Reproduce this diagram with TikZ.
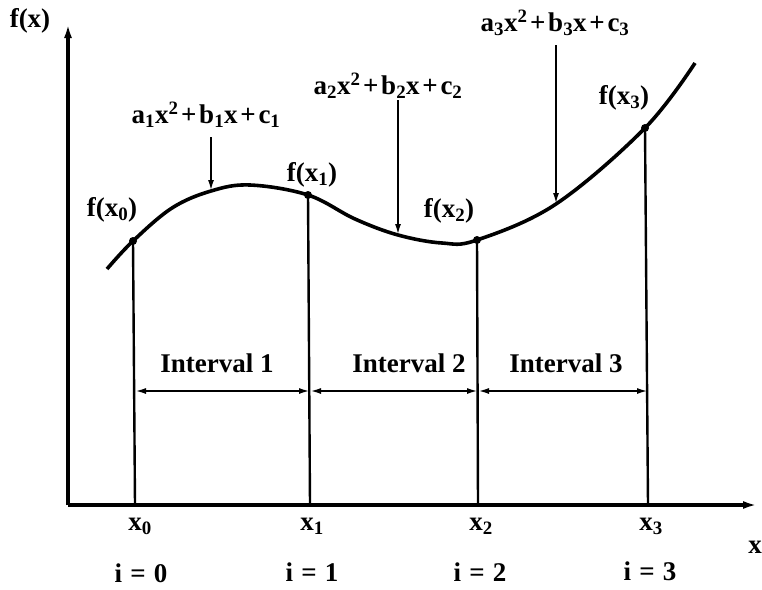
\documentclass[tikz,border=0pt]{standalone}
\usepackage{fontspec}
\setmainfont{Liberation Serif}
\usetikzlibrary{arrows.meta}
\newcommand{\pls}{\hspace{0.1em}+\hspace{0.1em}}
\newcommand{\eqs}{\hspace{0.3em}=\hspace{0.3em}}
\begin{document}
\begin{tikzpicture}[x=1pt,y=-1pt,
  lbl/.style={font=\fontsize{27}{30}\selectfont\bfseries, inner sep=1pt},
  axis/.style={line width=3.6pt, -{Latex[length=14pt,width=8pt]}},
  vline/.style={line width=2.4pt},
  curvestyle/.style={line width=3.6pt},
  pointer/.style={line width=2pt, -{Latex[length=11pt,width=6pt]}},
  dim/.style={line width=2pt, {Latex[length=11pt,width=6pt]}-{Latex[length=11pt,width=6pt]}},
  dot/.style={circle, fill=black, inner sep=0pt, minimum size=8pt}]
\useasboundingbox (0,0) rectangle (762,589);
% axes
\coordinate (O) at (68,505);
\coordinate (ytop) at (68,24);
\coordinate (xend) at (757,505);
\draw[axis] (O) -- (ytop);
\draw[axis] (O) -- (xend);
\node[lbl] (fx) at (30,21) {f(x)};
\node[lbl] (xl) at (755,547) {x};
% points on curve
\coordinate (p0) at (133,241);
\coordinate (p1) at (308,195);
\coordinate (p2) at (477,240);
\coordinate (p3) at (645,128);
\coordinate (q1) at (211,191);
\coordinate (q2) at (398,235);
\coordinate (q3) at (556,204);
% curve
\draw[curvestyle] plot[smooth, tension=0.6] coordinates
 {(107,269) (p0) (172,208) (q1) (250,185) (p1) (355,219) (q2) (442,243) (p2) (q3) (p3) (695,63)};
\foreach \p in {p0,p1,p2,p3} \node[dot] at (\p) {};
% base coordinates
\coordinate (b0) at (135,505);
\coordinate (b1) at (310,505);
\coordinate (b2) at (478,505);
\coordinate (b3) at (648,505);
\draw[vline] (p0) -- (b0);
\draw[vline] (p1) -- (b1);
\draw[vline] (p2) -- (b2);
\draw[vline] (p3) -- (b3);
% interval dimension arrows
\coordinate (d0) at (135,391);
\coordinate (d1) at (310,391);
\coordinate (d2) at (478,391);
\coordinate (d3) at (648,391);
\draw[dim] (d0) -- (d1);
\draw[dim] (d1) -- (d2);
\draw[dim] (d2) -- (d3);
\node[lbl] (i1) at (217,363) {Interval 1};
\node[lbl] (i2) at (409,363) {Interval 2};
\node[lbl] (i3) at (566,363) {Interval 3};
% point labels
\node[lbl] (f0) at (112,210) {f(x\textsubscript{0})};
\node[lbl] (f1) at (312,175) {f(x\textsubscript{1})};
\node[lbl] (f2) at (449,211) {f(x\textsubscript{2})};
\node[lbl] (f3) at (624,98) {f(x\textsubscript{3})};
% polynomial labels
\node[lbl] (e1) at (206,115) {a\textsubscript{1}x\textsuperscript{2}\pls b\textsubscript{1}x\pls c\textsubscript{1}};
\node[lbl] (e2) at (388,86) {a\textsubscript{2}x\textsuperscript{2}\pls b\textsubscript{2}x\pls c\textsubscript{2}};
\node[lbl] (e3) at (555,23) {a\textsubscript{3}x\textsuperscript{2}\pls b\textsubscript{3}x\pls c\textsubscript{3}};
\coordinate (s1) at (211,137);
\coordinate (s2) at (398,100);
\coordinate (s3) at (556,45);
\draw[pointer] (s1) -- (q1);
\draw[pointer] (s2) -- (q2);
\draw[pointer] (s3) -- (q3);
% x labels
\node[lbl] (x0) at (140,526) {x\textsubscript{0}};
\node[lbl] (x1) at (312,526) {x\textsubscript{1}};
\node[lbl] (x2) at (481,526) {x\textsubscript{2}};
\node[lbl] (x3) at (651,526) {x\textsubscript{3}};
% index labels
\node[lbl] (k0) at (141,573) {i\eqs 0};
\node[lbl] (k1) at (312,572) {i\eqs 1};
\node[lbl] (k2) at (480,572) {i\eqs 2};
\node[lbl] (k3) at (650,571) {i\eqs 3};
\end{tikzpicture}
\end{document}
